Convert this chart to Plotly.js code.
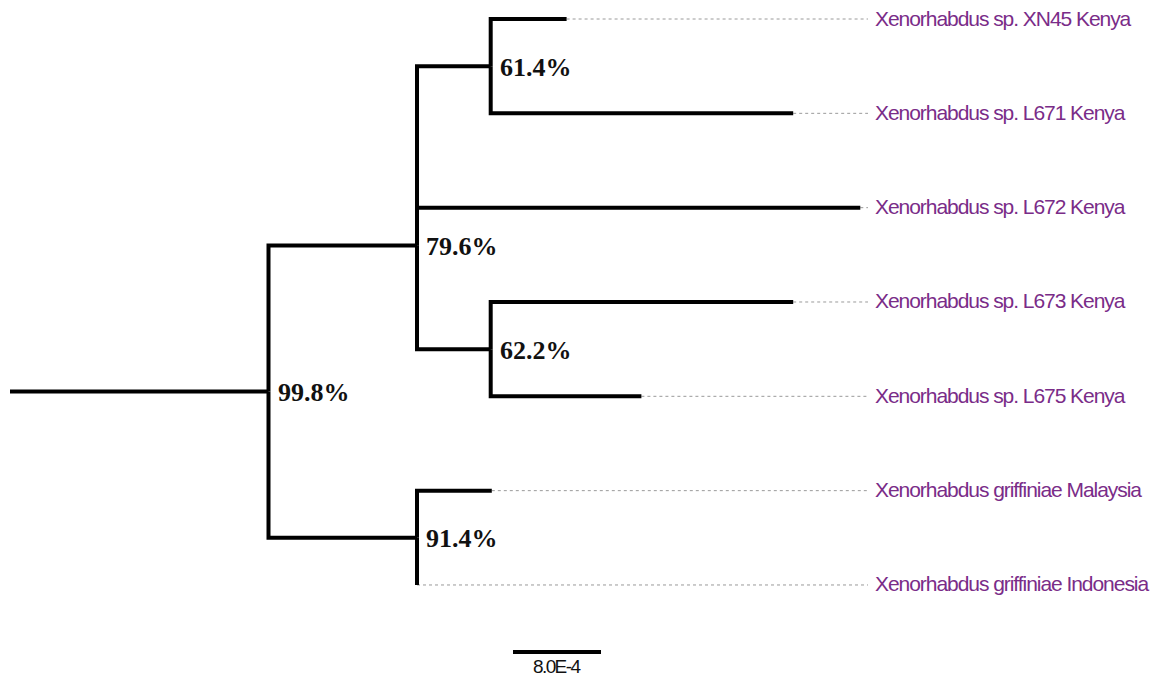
<!DOCTYPE html>
<html>
<head>
<meta charset="utf-8">
<script src="https://cdn.plot.ly/plotly-3.0.1.min.js"></script>
<style>
html,body{margin:0;padding:0;background:#fff;}
#chart{width:1163px;height:679px;}
text.annotation-text[data-unformatted^="Xenorhabdus"]{letter-spacing:-1.05px;}
text.annotation-text[data-unformatted="8.0E-4"]{letter-spacing:-1.6px;}
</style>
</head>
<body>
<div id="chart"></div>
<script>
// ---- Data ----
const leafKeys = ["XN45", "L671", "L672", "L673", "L675", "Malaysia", "Indonesia"];
const leafNames = [
  "Xenorhabdus sp. XN45 Kenya",
  "Xenorhabdus sp. L671 Kenya",
  "Xenorhabdus sp. L672 Kenya",
  "Xenorhabdus sp. L673 Kenya",
  "Xenorhabdus sp. L675 Kenya",
  "Xenorhabdus griffiniae Malaysia",
  "Xenorhabdus griffiniae Indonesia"
];
// branches: child, parent, branch length (substitutions/site)
const branchNode   = ["A", "B", "C", "XN45", "L671", "L672", "D", "L673", "L675", "E", "Malaysia", "Indonesia"];
const branchParent = ["root", "A", "B", "C", "C", "B", "B", "D", "D", "A", "E", "E"];
const branchLength = [0.00235, 0.00135, 0.00067, 0.00069, 0.00275, 0.00403, 0.00067, 0.00275, 0.00137, 0.00135, 0.00068, 0.0];
const supportNode  = ["A", "B", "C", "D", "E"];
const supportValue = ["99.8%", "79.6%", "61.4%", "62.2%", "91.4%"];
const scaleBarLength = 0.0008;
const scaleBarLabel = "8.0E-4";

// ---- Layout helpers ----
const W = 1163, H = 679;
const pxPerUnit = 110000, xOriginPx = 10;
const rowPx = 94.33, row0Px = 19;
const rowOverride = { B: 2.4 };

// build tree
const children = {};
const blen = {};
branchNode.forEach((n, i) => {
  (children[branchParent[i]] = children[branchParent[i]] || []).push(n);
  blen[n] = branchLength[i];
});
const X = { root: 0 }, Y = {};
function setX(n) { (children[n] || []).forEach(c => { X[c] = X[n] + blen[c]; setX(c); }); }
setX("root");
leafKeys.forEach((k, i) => Y[k] = i);
function setY(n) {
  if (Y[n] !== undefined) return Y[n];
  const ch = children[n];
  ch.forEach(setY);
  Y[n] = rowOverride[n] !== undefined ? rowOverride[n] : (Y[ch[0]] + Y[ch[ch.length - 1]]) / 2;
  return Y[n];
}
setY("A");
Y.root = Y.A;

// solid tree segments
const tx = [], ty = [];
tx.push(X.root, X.A, null); ty.push(Y.A, Y.A, null);
branchNode.forEach((n, i) => {
  const p = branchParent[i];
  if (p === "root") return;
  tx.push(X[p], X[p], X[n], null);
  ty.push(Y[p], Y[n], Y[n], null);
});
// dotted leader lines
const maxTip = Math.max(...leafKeys.map(k => X[k]));
const dotEnd = maxTip + 0.00007;
const labelX = maxTip + 0.000115;
const dx = [], dy = [];
leafKeys.forEach(k => { if (X[k] < dotEnd) { dx.push(X[k], dotEnd, null); dy.push(Y[k], Y[k], null); } });

const barX0 = (513 - xOriginPx) / pxPerUnit;
const barY = 6.71;

const traces = [
  { x: dx, y: dy, mode: "lines", line: { color: "#9a9a9a", width: 1, dash: "dot" }, hoverinfo: "skip", showlegend: false },
  { x: tx, y: ty, mode: "lines", line: { color: "#000", width: 4, shape: "linear" }, hoverinfo: "skip", showlegend: false },
  { x: [barX0, barX0 + scaleBarLength], y: [barY, barY], mode: "lines", line: { color: "#000", width: 4 }, hoverinfo: "skip", showlegend: false }
];

const annotations = [];
leafKeys.forEach((k, i) => annotations.push({
  x: labelX, y: Y[k], text: leafNames[i], showarrow: false, xanchor: "left", yanchor: "middle",
  yshift: 1,
  font: { family: "Liberation Sans, Arial, sans-serif", size: 21, color: "#7a2c88" }
}));
supportNode.forEach((n, i) => annotations.push({
  x: X[n], y: Y[n], text: "<b>" + supportValue[i] + "</b>", showarrow: false, xanchor: "left", yanchor: "middle",
  xshift: 7, yshift: -1,
  font: { family: "Liberation Serif, Times New Roman, serif", size: 26, color: "#111" }
}));
annotations.push({
  x: barX0 + scaleBarLength / 2, y: barY, text: scaleBarLabel, showarrow: false, xanchor: "center", yanchor: "top",
  yshift: -2, font: { family: "Liberation Sans, Arial, sans-serif", size: 19, color: "#111" }
});

const layout = {
  width: W, height: H,
  margin: { l: 0, r: 0, t: 0, b: 0, pad: 0 },
  paper_bgcolor: "#fff", plot_bgcolor: "#fff",
  xaxis: { range: [-xOriginPx / pxPerUnit, (W - xOriginPx) / pxPerUnit], visible: false, fixedrange: true },
  yaxis: { range: [(H - row0Px) / rowPx, -row0Px / rowPx], visible: false, fixedrange: true },
  annotations: annotations,
  showlegend: false
};
Plotly.newPlot("chart", traces, layout, { displayModeBar: false, staticPlot: true });
</script>
</body>
</html>
